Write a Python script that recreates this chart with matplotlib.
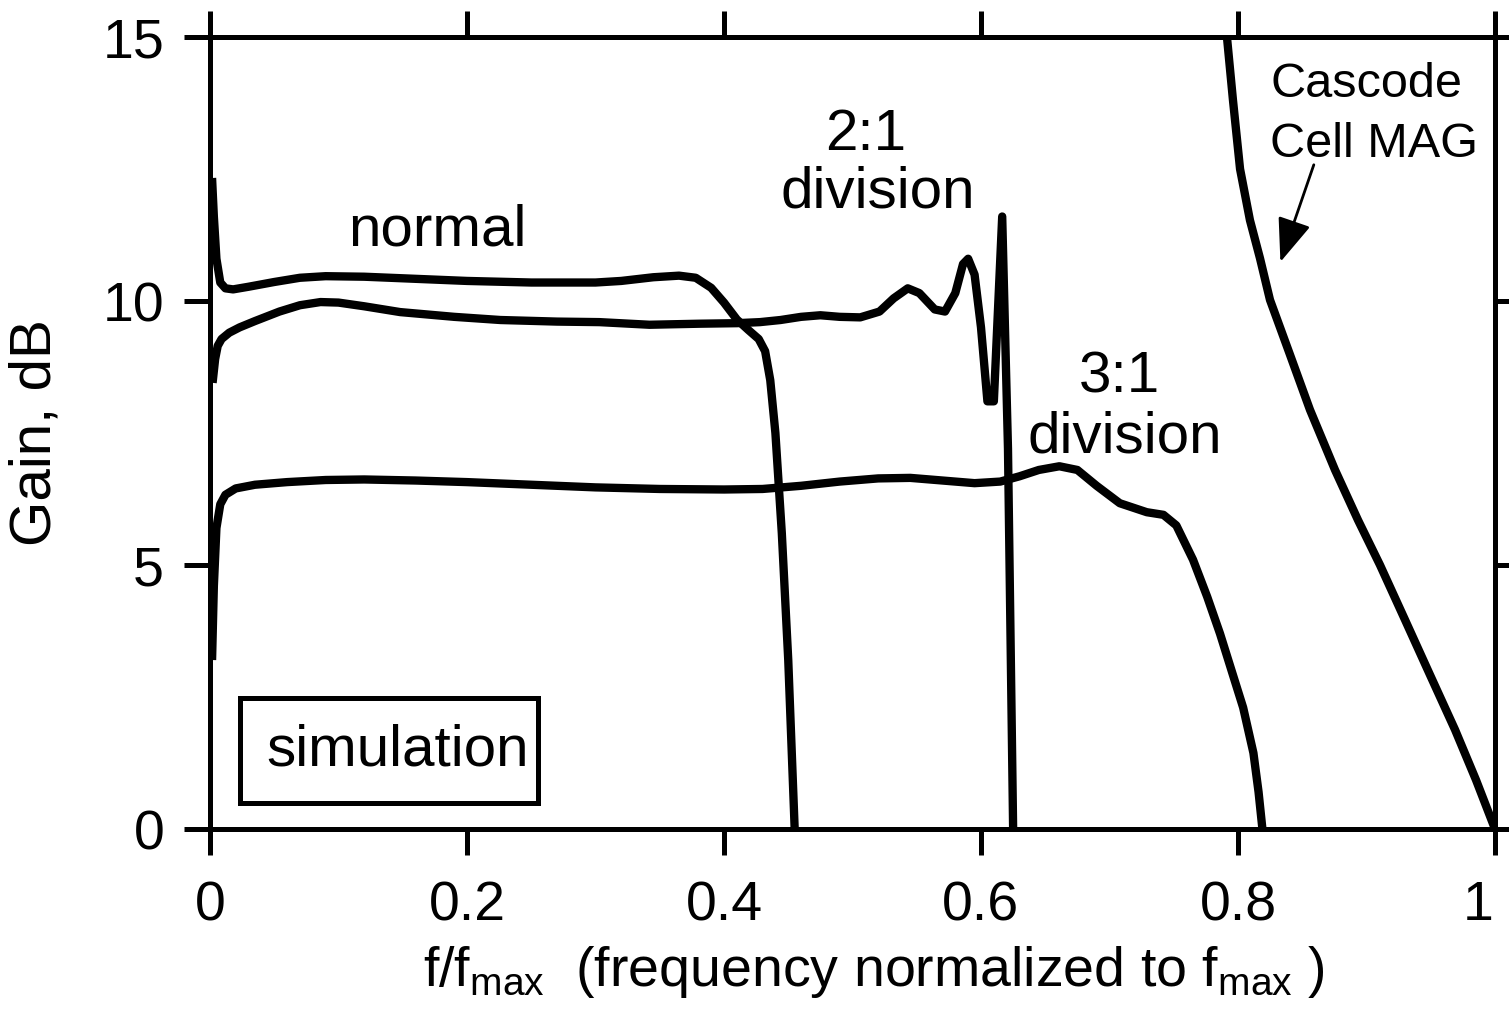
import matplotlib
matplotlib.use('Agg')
import matplotlib.pyplot as plt
import matplotlib.transforms as mtransforms
from matplotlib.patches import Rectangle

plt.rcParams['font.family'] = ['Liberation Sans', 'DejaVu Sans']
plt.rcParams['mathtext.fontset'] = 'custom'
plt.rcParams['mathtext.rm'] = 'Liberation Sans'

# normal operation
normal_x = [0.0016, 0.003, 0.005, 0.008, 0.012, 0.018, 0.03, 0.05, 0.07, 0.09, 0.12, 0.16,
            0.2, 0.25, 0.3, 0.32, 0.345, 0.365, 0.378, 0.39, 0.40, 0.41, 0.419, 0.427,
            0.432, 0.436, 0.440, 0.445, 0.450, 0.455]
normal_y = [12.33, 11.6, 10.8, 10.35, 10.24, 10.22, 10.27, 10.36, 10.44, 10.47, 10.46, 10.42,
            10.38, 10.35, 10.35, 10.38, 10.45, 10.48, 10.44, 10.25, 9.97, 9.65, 9.45, 9.28,
            9.05, 8.5, 7.5, 5.6, 3.2, 0.0]

# 2:1 division
div2_x = [0.002, 0.004, 0.006, 0.009, 0.015, 0.023, 0.035, 0.054, 0.07, 0.086, 0.1, 0.12,
          0.148, 0.19, 0.226, 0.27, 0.303, 0.342, 0.381, 0.41, 0.428, 0.444, 0.46, 0.475,
          0.49, 0.506, 0.521, 0.532, 0.543, 0.552, 0.564, 0.572, 0.580, 0.586, 0.590,
          0.595, 0.600, 0.605, 0.610, 0.6165, 0.621, 0.625]
div2_y = [8.45, 8.9, 9.15, 9.28, 9.4, 9.5, 9.62, 9.8, 9.92, 9.98, 9.97, 9.9,
          9.79, 9.7, 9.64, 9.61, 9.6, 9.55, 9.57, 9.58, 9.6, 9.64, 9.7, 9.73,
          9.7, 9.69, 9.8, 10.05, 10.24, 10.15, 9.84, 9.8, 10.15, 10.7, 10.8,
          10.5, 9.5, 8.1, 8.1, 11.6, 7.2, 0.0]

# 3:1 division
div3_x = [0.0016, 0.003, 0.005, 0.008, 0.012, 0.02, 0.035, 0.06, 0.09, 0.12, 0.16, 0.2,
          0.25, 0.3, 0.35, 0.4, 0.43, 0.46, 0.49, 0.52, 0.545, 0.57, 0.595, 0.615, 0.63,
          0.645, 0.661, 0.675, 0.69, 0.708, 0.729, 0.742, 0.752, 0.765, 0.776, 0.786,
          0.795, 0.804, 0.812, 0.816, 0.819]
div3_y = [3.2, 4.6, 5.7, 6.15, 6.33, 6.45, 6.52, 6.57, 6.61, 6.62, 6.6, 6.57,
          6.52, 6.47, 6.44, 6.43, 6.44, 6.5, 6.58, 6.64, 6.65, 6.6, 6.55, 6.58, 6.68,
          6.8, 6.87, 6.8, 6.5, 6.17, 6.0, 5.95, 5.75, 5.1, 4.4, 3.7,
          3.0, 2.3, 1.44, 0.7, 0.0]

# cascode cell MAG
mag_x = [0.7914, 0.7961, 0.8016, 0.8093, 0.8171, 0.8249, 0.8405, 0.8560, 0.8755, 0.8934,
         0.9105, 0.9300, 0.9494, 0.9689, 0.9852, 1.0]
mag_y = [15.0, 13.8, 12.5, 11.53, 10.81, 10.02, 8.98, 7.94, 6.8, 5.85,
         5.0, 3.96, 2.92, 1.88, 0.93, 0.0]

xticks = [0, 0.2, 0.4, 0.6, 0.8, 1]
xticklabels = ['0', '0.2', '0.4', '0.6', '0.8', '1']
yticks = [0, 5, 10, 15]

fig = plt.figure(figsize=(15.09, 10.14), dpi=100)
ax = fig.add_axes([210/1509, 1-829/1014, 1285/1509, 792/1014])

for xs, ys in [(normal_x, normal_y), (div2_x, div2_y), (div3_x, div3_y), (mag_x, mag_y)]:
    ax.plot(xs, ys, color='black', lw=6, solid_joinstyle='round', solid_capstyle='butt')

ax.set_xlim(0, 1)
ax.set_ylim(0, 15)
ax.set_xticks(xticks)
ax.set_xticklabels(xticklabels)
ax.set_yticks(yticks)

for s in ax.spines.values():
    s.set_linewidth(3.6)
ax.tick_params(direction='out', length=19, width=3.6, labelsize=40,
               top=True, right=True, pad=14)
ax.tick_params(axis='x', pad=18)

# last x label sits a bit left of its tick
last = ax.get_xticklabels()[-1]
last.set_transform(last.get_transform() + mtransforms.ScaledTranslation(-0.17, 0, fig.dpi_scale_trans))

ax.set_ylabel('Gain, dB', fontsize=42)
ax.yaxis.set_label_coords(-0.115, 0.5)
ax.set_xlabel(r'f/f$_{\mathrm{max}}$  (frequency normalized to f$_{\mathrm{max}}$ )', fontsize=40)
ax.xaxis.set_label_coords(0.517, -0.145)

ax.text(0.177, 11.06, 'normal', fontsize=42, ha='center', va='baseline')
ax.text(0.51, 12.86, '2:1', fontsize=42, ha='center', va='baseline')
ax.text(0.52, 11.78, 'division', fontsize=42, ha='center', va='baseline')
ax.text(0.708, 8.26, '3:1', fontsize=42, ha='center', va='baseline')
ax.text(0.712, 7.14, 'division', fontsize=42, ha='center', va='baseline')
ax.text(0.825, 13.86, 'Cascode', fontsize=35, ha='left', va='baseline')
ax.text(0.825, 12.73, 'Cell MAG', fontsize=35, ha='left', va='baseline')
ax.annotate('', xy=(0.833, 10.74), xytext=(0.859, 12.58),
            arrowprops=dict(arrowstyle='-|>,head_length=0.9,head_width=0.35',
                            lw=2, color='black', shrinkA=0, shrinkB=0, mutation_scale=30))

ax.add_patch(Rectangle((0.023, 0.49), 0.232, 2.0, fill=False, lw=3.6, ec='black'))
ax.text(0.146, 1.21, 'simulation', fontsize=42, ha='center', va='baseline')

fig.savefig('out.png', dpi=100)
